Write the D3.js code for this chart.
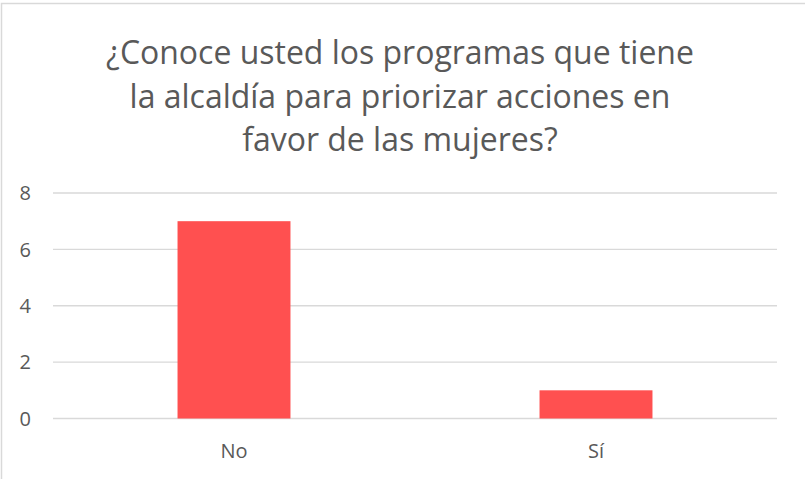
<meta charset="UTF-8">
<script src="https://d3js.org/d3.v7.min.js"></script>
<style>
  body { margin: 0; background: #fff; }
</style>
<div id="chart"></div>
<script>
// data
const categories = ["No", "Sí"];
const counts = [7, 1];
const yTicks = [0, 2, 4, 6, 8];
const titleLines = [
  "¿Conoce usted los programas que tiene",
  "la alcaldía para priorizar acciones en",
  "favor de las mujeres?"
];

const W = 805, H = 479;
const font = "'Open Sans', sans-serif";
const grey = "#595959";

const svg = d3.select("#chart").append("svg")
    .attr("width", W)
    .attr("height", H);

// chart area border (cut off on right and bottom like the picture)
svg.append("rect")
    .attr("x", 1.5).attr("y", 3.5)
    .attr("width", 900).attr("height", 600)
    .attr("fill", "none")
    .attr("stroke", "#d9d9d9")
    .attr("stroke-width", 1.5);

// title
const title = svg.append("g");
titleLines.forEach(function(t, i) {
  title.append("text")
      .attr("x", 400)
      .attr("y", 64 + i * 43.5)
      .attr("text-anchor", "middle")
      .style("font-family", font)
      .style("font-size", "26px")
      .attr("fill", grey)
      .text(t);
});
// fit first line to the width seen in the picture
const w0 = title.select("text").node().getComputedTextLength();
title.selectAll("text").style("font-size", (26 * 588 / w0) + "px");

// scales
const x = d3.scaleBand()
    .domain(categories)
    .range([53, 777])
    .paddingInner(0.688)
    .paddingOuter(0.344);

const y = d3.scaleLinear()
    .domain([0, 8])
    .range([418.5, 193]);

// gridlines
svg.append("g")
  .selectAll("line")
  .data(yTicks)
  .enter()
  .append("line")
    .attr("x1", 53).attr("x2", 777)
    .attr("y1", function(d) { return y(d); })
    .attr("y2", function(d) { return y(d); })
    .attr("stroke", "#d9d9d9")
    .attr("stroke-width", 1.3);

// y labels
svg.append("g")
  .selectAll("text")
  .data(yTicks)
  .enter()
  .append("text")
    .attr("x", 31)
    .attr("y", function(d) { return y(d); })
    .attr("dy", "0.36em")
    .attr("text-anchor", "end")
    .style("font-family", font)
    .style("font-size", "20px")
    .attr("fill", grey)
    .text(function(d) { return d; });

// bars
svg.append("g")
  .selectAll("rect")
  .data(categories)
  .enter()
  .append("rect")
    .attr("x", function(d) { return x(d); })
    .attr("width", x.bandwidth())
    .attr("y", function(d, i) { return y(counts[i]); })
    .attr("height", function(d, i) { return y(0) - y(counts[i]); })
    .attr("fill", "#ff5050");

// x labels
svg.append("g")
  .selectAll("text")
  .data(categories)
  .enter()
  .append("text")
    .attr("x", function(d) { return x(d) + x.bandwidth() / 2; })
    .attr("y", 458)
    .attr("text-anchor", "middle")
    .style("font-family", font)
    .style("font-size", "20px")
    .attr("fill", grey)
    .text(function(d) { return d; });
</script>
